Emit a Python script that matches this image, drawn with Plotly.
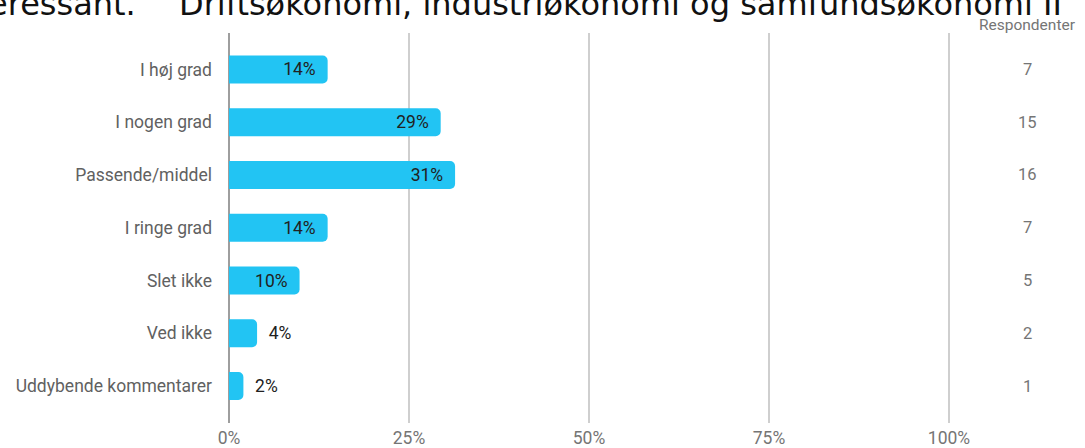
import plotly.graph_objects as go

categories = [
    "I høj grad",
    "I nogen grad",
    "Passende/middel",
    "I ringe grad",
    "Slet ikke",
    "Ved ikke",
    "Uddybende kommentarer",
]
percent = [13.7, 29.4, 31.4, 13.7, 9.8, 3.9, 2.0]
respondents = [7, 15, 16, 7, 5, 2, 1]
x_ticks = [0, 25, 50, 75, 100]
x_tick_labels = ["0%", "25%", "50%", "75%", "100%"]

title_left = "eressant."
title_right = "Driftsøkonomi, industriøkonomi og samfundsøkonomi II"

BAR = "#22c4f3"
NBSP = "\u00a0"

# big bars get the label inside, the two small ones outside
positions = ["inside" if p >= 8 else "outside" for p in percent]
labels = [
    f"{p:.0f}%{NBSP * 2}" if pos == "inside" else f"{NBSP * 2}{p:.0f}%"
    for p, pos in zip(percent, positions)
]

fig = go.Figure(
    go.Bar(
        x=percent,
        y=categories,
        orientation="h",
        marker=dict(color=BAR, line=dict(width=0)),
        text=labels,
        textposition=positions,
        insidetextanchor="end",
        textfont=dict(family="Roboto", size=17.5, color="#212121"),
        cliponaxis=False,
        hoverinfo="skip",
    )
)

# respondent counts column on the right (paper x ~ 1027 px)
COL_X = (1027 - 229) / 721
for cat, n in zip(categories, respondents):
    fig.add_annotation(
        x=COL_X, xref="paper", y=cat, yref="y",
        text=str(n), showarrow=False, xanchor="center",
        font=dict(family="Roboto", size=16.5, color="#757575"),
    )

fig.add_annotation(
    x=COL_X, xref="paper", y=1, yref="paper", yanchor="bottom", yshift=-3,
    text="Respondenter", showarrow=False, xanchor="center",
    font=dict(family="Roboto", size=15.5, color="#757575"),
)

# clipped title line from the slide above
fig.add_annotation(
    x=(138 - 229) / 721, xref="paper", xanchor="right",
    y=1, yref="paper", yanchor="bottom", yshift=8,
    text=title_left, showarrow=False,
    font=dict(family="DejaVu Sans", size=32, color="#111111"),
)
fig.add_annotation(
    x=(177 - 229) / 721, xref="paper", xanchor="left",
    y=1, yref="paper", yanchor="bottom", yshift=8,
    text=title_right, showarrow=False,
    font=dict(family="DejaVu Sans", size=32, color="#111111"),
)

fig.update_layout(
    width=1085,
    height=448,
    margin=dict(l=229, r=135, t=33, b=25),
    paper_bgcolor="white",
    plot_bgcolor="white",
    bargap=0.47,
    barcornerradius=5,
    showlegend=False,
    font=dict(family="Roboto"),
    xaxis=dict(
        range=[0, 100.14],
        tickvals=x_ticks,
        ticktext=x_tick_labels,
        showgrid=True,
        gridcolor="#cfcfcf",
        gridwidth=1.5,
        zeroline=True,
        zerolinecolor="#9e9e9e",
        zerolinewidth=2,
        showline=False,
        ticks="",
        ticklabelstandoff=2,
        automargin=False,
        tickfont=dict(family="Roboto", size=17.5, color="#757575"),
    ),
    yaxis=dict(
        categoryorder="array",
        categoryarray=categories,
        range=[6.70, -0.69],
        showgrid=False,
        zeroline=False,
        ticks="",
        ticklabelstandoff=16,
        automargin=False,
        tickfont=dict(family="Roboto", size=17.5, color="#616161"),
    ),
)

# page has a default 8px body margin; drop it so the figure fills the window
fig.write_html(
    "out.html",
    config={"displayModeBar": False},
    post_script="document.body.style.margin='0';",
)
